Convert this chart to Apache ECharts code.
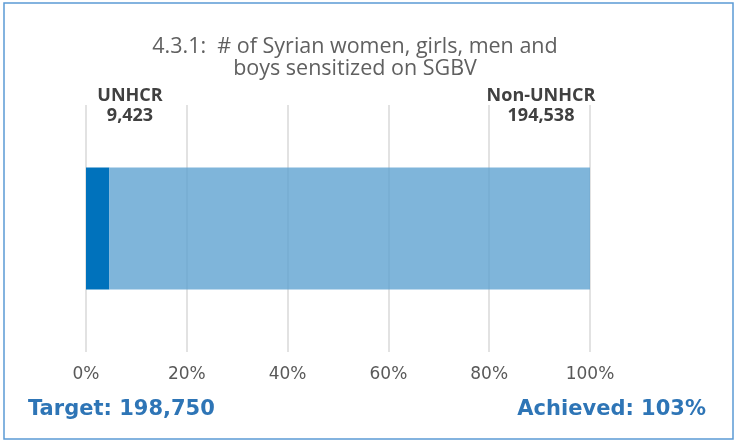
<!DOCTYPE html>
<html><head><meta charset="utf-8">
<script src="https://cdn.jsdelivr.net/npm/echarts@6/dist/echarts.min.js"></script>
<style>html,body{margin:0;padding:0;background:#fff}#c{width:736px;height:443px}</style>
</head><body><div id="c"></div>
<script>
const categories = ['SGBV'];
const seriesNames = ['UNHCR', 'Non-UNHCR'];
const unhcrValues = [9423];
const nonUnhcrValues = [194538];
const target = 198750;
const tickLabels = ['0%', '20%', '40%', '60%', '80%', '100%'];
const titleText = '4.3.1:  # of Syrian women, girls, men and\nboys sensitized on SGBV';

const total = unhcrValues[0] + nonUnhcrValues[0];
const pct = v => v.map(x => x / total * 100);
const achieved = Math.round(total / target * 100);
const fmt = n => n.toLocaleString('en-US');

const chart = echarts.init(document.getElementById('c'));
chart.setOption({
  animation: false,
  title: {
    text: titleText, left: 350, top: 31, textAlign: 'center',
    textStyle: { fontFamily: 'Open Sans', fontSize: 21.5, fontWeight: 'normal', color: '#606060', lineHeight: 22 }
  },
  grid: { left: 86, right: 146, top: 105, bottom: 91 },
  xAxis: {
    type: 'value', min: 0, max: 100, interval: 20,
    axisLine: { show: false }, axisTick: { show: false },
    splitLine: { lineStyle: { color: '#d9d9d9', width: 1.5 } },
    axisLabel: { formatter: v => tickLabels[v / 20], margin: 14, fontFamily: 'DejaVu Sans', fontSize: 17, color: '#595959' }
  },
  yAxis: { type: 'category', data: categories, show: false },
  series: [
    { name: seriesNames[0], type: 'bar', stack: 's', data: pct(unhcrValues), barWidth: 122,
      itemStyle: { color: '#0072BC' } },
    { name: seriesNames[1], type: 'bar', stack: 's', data: pct(nonUnhcrValues), barWidth: 122,
      itemStyle: { color: '#5FA2D1', opacity: 0.8 } }
  ],
  graphic: [
    { type: 'rect', shape: { x: 4, y: 3, width: 729, height: 436 }, style: { fill: 'none', stroke: '#5B9BD5', lineWidth: 1.5 }, silent: true },
    { type: 'text', x: 130, y: 86, style: { text: seriesNames[0] + '\n' + fmt(unhcrValues[0]), textAlign: 'center', fill: '#404040', font: 'bold 18px "Open Sans"', lineHeight: 20 }, z: 10 },
    { type: 'text', x: 541, y: 86, style: { text: seriesNames[1] + '\n' + fmt(nonUnhcrValues[0]), textAlign: 'center', fill: '#404040', font: 'bold 18px "Open Sans"', lineHeight: 20 }, z: 10 },
    { type: 'text', x: 28, y: 399, style: { text: 'Target: ' + fmt(target), fill: '#2E75B6', font: 'bold 21px "DejaVu Sans"' } },
    { type: 'text', x: 706, y: 399, style: { text: 'Achieved: ' + achieved + '%', textAlign: 'right', fill: '#2E75B6', font: 'bold 21px "DejaVu Sans"' } }
  ]
});
</script></body></html>
